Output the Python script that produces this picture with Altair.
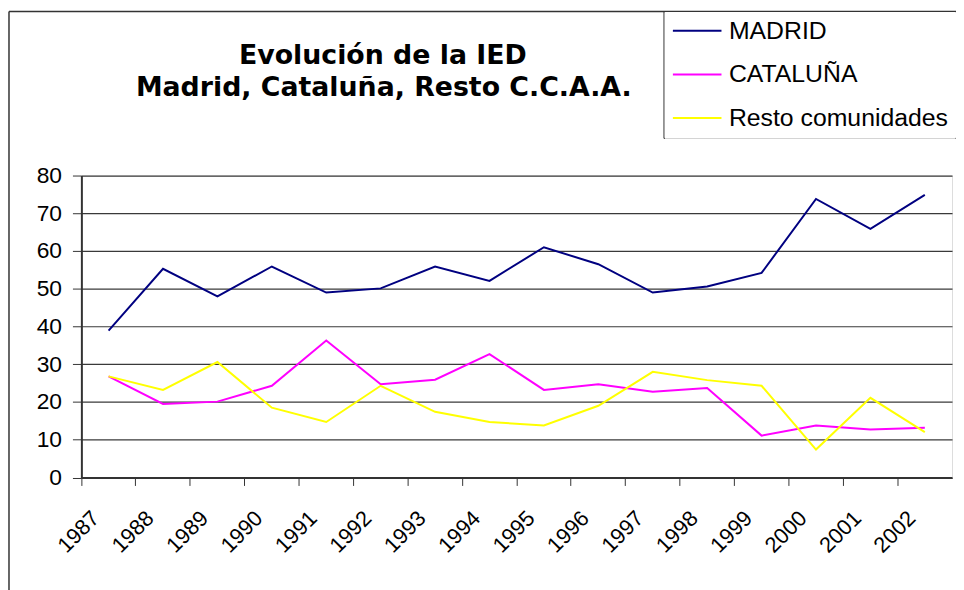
import altair as alt
import pandas as pd

years = [str(y) for y in range(1987, 2003)]
madrid = [38.9, 55.3, 48.0, 55.9, 49.0, 50.1, 55.9, 52.1, 61.0, 56.5, 49.0, 50.6, 54.2, 73.8, 65.9, 74.9]
cataluna = [26.8, 19.5, 20.1, 24.3, 36.3, 24.7, 25.9, 32.7, 23.2, 24.7, 22.7, 23.7, 11.1, 13.8, 12.7, 13.2]
resto = [26.8, 23.2, 30.6, 18.5, 14.7, 24.3, 17.4, 14.7, 13.8, 19.0, 28.0, 25.8, 24.3, 7.4, 21.1, 12.0]
series = ["MADRID", "CATALUÑA", "Resto comunidades"]
colors = ["#000080", "#FF00FF", "#FFFF00"]
y_ticks = [0, 10, 20, 30, 40, 50, 60, 70, 80]
title_lines = ["Evolución de la IED", "Madrid, Cataluña, Resto C.C.A.A."]

rows = []
for name, vals in zip(series, [madrid, cataluna, resto]):
    for yr, v in zip(years, vals):
        rows.append({"Año": yr, "Valor": v, "Serie": name})
df = pd.DataFrame(rows)

FONT = "Liberation Sans"
TITLE_FONT = "DejaVu Sans"

lines = alt.Chart(df).mark_line(strokeWidth=2).encode(
    x=alt.X(
        "Año:N",
        sort=years,
        scale=alt.Scale(type="band", paddingInner=0, paddingOuter=0),
        axis=alt.Axis(
            title=None,
            bandPosition=0,
            labelAngle=-45,
            labelAlign="right",
            labelBaseline="top",
            labelOffset=-20,
            labelPadding=22,
            tickSize=8,
            tickColor="#333333",
            tickWidth=1,
            domainColor="#333333",
            domainWidth=2,
            labelFont=FONT,
            labelFontSize=22,
            labelColor="black",
            grid=False,
        ),
    ),
    y=alt.Y(
        "Valor:Q",
        scale=alt.Scale(domain=[0, 80], nice=False, zero=True),
        axis=alt.Axis(
            title=None,
            values=y_ticks,
            tickSize=9,
            tickColor="#333333",
            labelPadding=11,
            labelFont=FONT,
            labelFontSize=23,
            labelColor="black",
            grid=True,
            gridColor="#3a3a3a",
            gridWidth=1.2,
            domainColor="#333333",
            domainWidth=2,
        ),
    ),
    color=alt.Color(
        "Serie:N",
        scale=alt.Scale(domain=series, range=colors),
        legend=alt.Legend(
            title=None,
            orient="none",
            legendX=588,
            legendY=-165.5,
            symbolType="M-2.2,0H7.6",
            symbolSize=100,
            symbolStrokeWidth=2,
            labelFont=FONT,
            labelFontSize=25,
            labelColor="black",
            labelLimit=0,
            labelOffset=33,
            padding=7,
            rowPadding=18,
            fillColor="white",
            strokeColor="transparent",
            cornerRadius=0,
        ),
    ),
)

one = pd.DataFrame({"k": [1]})
frame_left = alt.Chart(one).mark_rule(color="#333333", strokeWidth=1.5).encode(
    x=alt.value(-73), y=alt.value(-165.5), y2=alt.value(420)
)
frame_top = alt.Chart(one).mark_rule(color="#333333", strokeWidth=1.5).encode(
    x=alt.value(-73), x2=alt.value(900), y=alt.value(-165.5)
)
legend_left = alt.Chart(one).mark_rule(color="#333333", strokeWidth=1).encode(
    x=alt.value(587.5), y=alt.value(-165.5), y2=alt.value(-37.5)
)
legend_bottom = alt.Chart(one).mark_rule(color="#333333", strokeWidth=1).encode(
    x=alt.value(587.5), x2=alt.value(900), y=alt.value(-37.5)
)
title1 = alt.Chart(one).mark_text(
    font=TITLE_FONT, fontSize=27, fontWeight="bold", color="black", align="center", baseline="alphabetic"
).encode(x=alt.value(304), y=alt.value(-112.5), text=alt.value(title_lines[0]))
title2 = alt.Chart(one).mark_text(
    font=TITLE_FONT, fontSize=27, fontWeight="bold", color="black", align="center", baseline="alphabetic"
).encode(x=alt.value(305), y=alt.value(-80.5), text=alt.value(title_lines[1]))

chart = alt.layer(
    frame_left, frame_top, legend_left, legend_bottom, title1, title2, lines
).properties(
    width=878,
    height=304.5,
    autosize="none",
    padding={"left": 74, "top": 166.5, "right": 4, "bottom": 111},
).configure_view(
    stroke="#808080", fill="#C0C0C0"
).configure(background="white")

chart.save("out.html", embed_options={"renderer": "svg", "actions": False})
